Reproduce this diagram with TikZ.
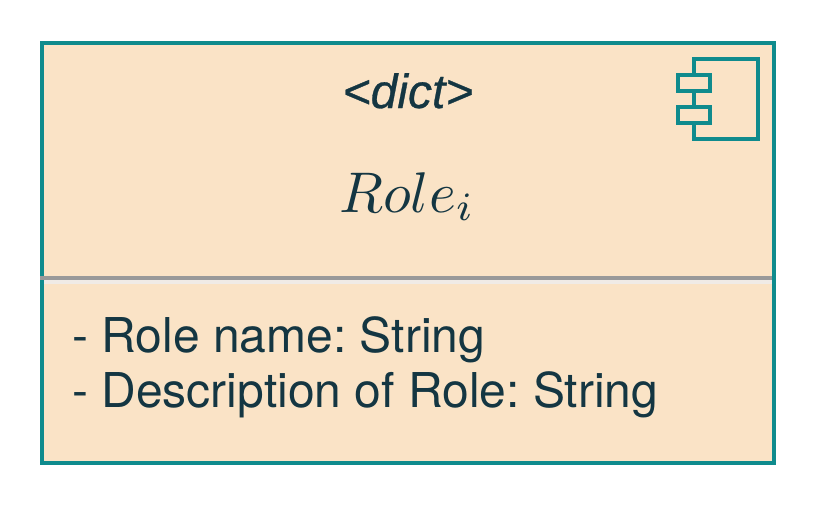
\documentclass[tikz,border=0pt]{standalone}
\usepackage{fontspec}
\setmainfont{TeX Gyre Heros}
\newfontfamily\dictfont[ItalicFont={Liberation Sans Italic},ItalicFeatures={FakeBold=0.6}]{Liberation Sans}
\definecolor{boxfill}{HTML}{FAE3C6}
\definecolor{boxteal}{HTML}{0F8B8D}
\definecolor{boxink}{HTML}{143642}
\definecolor{sepgray}{HTML}{999999}
\definecolor{seplight}{HTML}{F0EBE6}
\frenchspacing
\tikzset{
  rolebox/.style={draw=boxteal,fill=boxfill,line width=3pt,minimum width=549pt,minimum height=315pt,inner sep=0pt},
  iconpart/.style={draw=boxteal,line width=3pt,fill=boxfill},
  roletext/.style={text=boxink,inner sep=0pt,font=\fontsize{36}{43}\selectfont},
}
\begin{document}
\begin{tikzpicture}[x=0.75pt,y=-0.75pt]
	\useasboundingbox (0,0) rectangle (816,504);
	\node[rolebox] (rolebox) at (408,253) {};
	% separator
	\fill[sepgray] (40,276) rectangle (772,280);
	\fill[seplight] (44,280) rectangle (772,284);
	% component icon
	\draw[iconpart] (694,59) rectangle (758,139);
	\draw[iconpart] (678,75) rectangle (710,91);
	\draw[iconpart] (678,107) rectangle (710,123);
	% labels
	\node[roletext,anchor=base] (stereotype) at (408,108) {\dictfont\itshape <dict>};
	\node[roletext,anchor=base,font=\fontsize{10}{12}\selectfont,scale=4.3] (rolename) at (407,212) {$Role_i$};
	\node[roletext,anchor=base west] (attrname) at (72,352) {- Role name: String};
	\node[roletext,anchor=base west] (attrdesc) at (72,407) {- Description of Role: String};
\end{tikzpicture}
\end{document}
